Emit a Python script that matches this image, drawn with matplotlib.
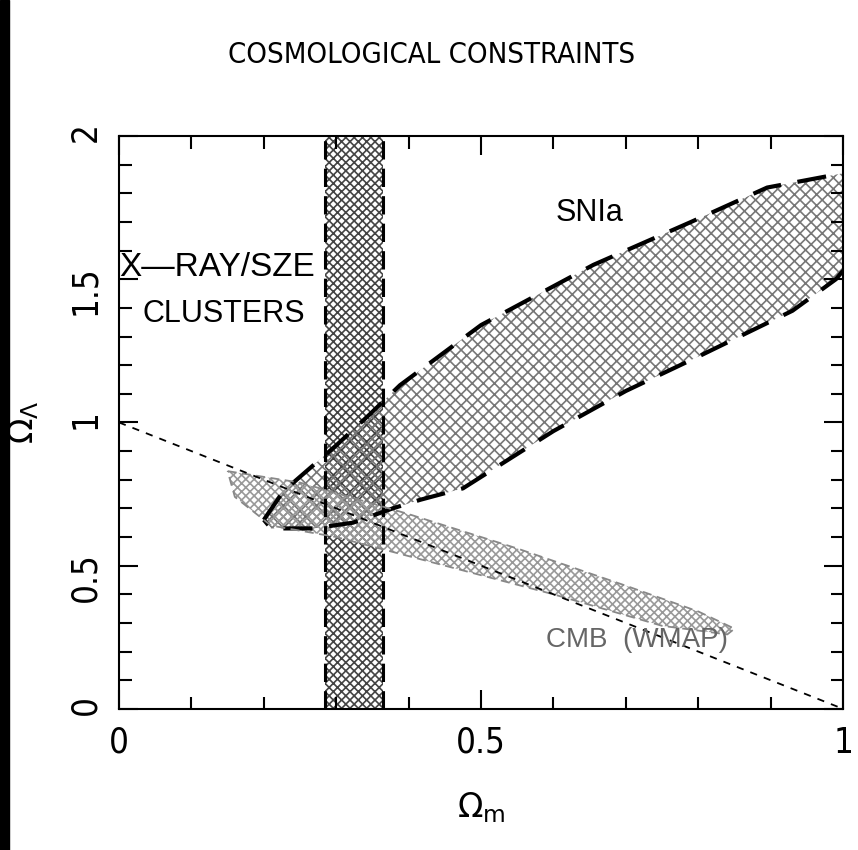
import matplotlib
matplotlib.use("Agg")
import matplotlib.pyplot as plt
from matplotlib.ticker import MultipleLocator
from matplotlib.patches import Rectangle

# cluster constraint (vertical band in Omega_m)
cluster_om = [0.285, 0.365]

# flat universe line
flat_om = [0.0, 1.0]
flat_ol = [1.0, 0.0]

# SNIa contour, upper and lower edges
sn_upper_om = [0.20, 0.227, 0.30, 0.347, 0.388, 0.50, 0.655, 0.79, 0.895, 1.0]
sn_upper_ol = [0.66, 0.76, 0.92, 1.03, 1.13, 1.34, 1.55, 1.70, 1.82, 1.87]
sn_lower_om = [1.0, 0.99, 0.93, 0.80, 0.70, 0.60, 0.475, 0.416, 0.378, 0.323, 0.268, 0.21, 0.20]
sn_lower_ol = [1.53, 1.50, 1.39, 1.23, 1.11, 0.97, 0.77, 0.73, 0.70, 0.65, 0.63, 0.63, 0.66]

# CMB (WMAP) contour
cmb_om = [0.15, 0.25, 0.40, 0.55, 0.70, 0.80, 0.85, 0.84, 0.75, 0.60, 0.45, 0.30, 0.21, 0.16]
cmb_ol = [0.83, 0.79, 0.68, 0.56, 0.43, 0.34, 0.28, 0.26, 0.29, 0.40, 0.50, 0.60, 0.64, 0.74]

xticks = [0, 0.5, 1]
xtick_labels = ["0", "0.5", "1"]
yticks = [0, 0.5, 1, 1.5, 2]
ytick_labels = ["0", "0.5", "1", "1.5", "2"]

plt.rcParams["hatch.linewidth"] = 1.2
thin = dict(family="DejaVu Sans", stretch="condensed", weight="light")
label_font = dict(family="Liberation Sans", fontsize=22)

fig = plt.figure(figsize=(8.58, 8.5), dpi=100)
ax = fig.add_axes([0.1387, 0.166, 0.844, 0.674])

# clusters band
ax.axvspan(cluster_om[0], cluster_om[1], facecolor="none", edgecolor="#444444",
           hatch="xxxx", lw=0)
for xv in cluster_om:
    ax.axvline(xv, color="black", ls=(0, (6, 3)), lw=2.2)

# SNIa
sn_om = sn_upper_om + sn_lower_om
sn_ol = sn_upper_ol + sn_lower_ol
ax.fill(sn_om, sn_ol, facecolor="none", edgecolor="#777777", hatch="xxx", lw=0)
ax.plot(sn_upper_om, sn_upper_ol, color="black", ls=(0, (7, 4)), lw=3)
ax.plot(sn_lower_om, sn_lower_ol, color="black", ls=(0, (7, 4)), lw=3)

# CMB
ax.fill(cmb_om, cmb_ol, facecolor="none", edgecolor="#999999", hatch="xxxx", lw=0)
ax.plot(cmb_om + cmb_om[:1], cmb_ol + cmb_ol[:1], color="#888888", ls=(0, (5, 3)), lw=1.3)
ax.plot(flat_om, flat_ol, color="black", ls=(0, (4, 4)), lw=1.3)

ax.text(0.65, 1.73, "SNIa", ha="center", va="center", **label_font)
ax.text(0.0, 1.54, "X\u2014RAY/SZE", ha="left", va="center", family="Liberation Sans", fontsize=24)
ax.text(0.033, 1.38, "CLUSTERS", ha="left", va="center", **label_font)
ax.text(0.715, 0.24, "CMB  (WMAP)", ha="center", va="center", color="#666666",
        family="Liberation Sans", fontsize=20)

ax.set_xlim(0, 1)
ax.set_ylim(0, 2)
ax.set_xticks(xticks, xtick_labels, **thin)
ax.set_yticks(yticks, ytick_labels, **thin)
ax.xaxis.set_minor_locator(MultipleLocator(0.1))
ax.yaxis.set_minor_locator(MultipleLocator(0.1))
ax.tick_params(which="both", direction="in", top=True, right=True, width=1.5)
ax.tick_params(which="major", length=14, labelsize=25, pad=12)
ax.tick_params(which="minor", length=9)
ax.tick_params(axis="y", labelrotation=90)
for s in ax.spines.values():
    s.set_linewidth(1.5)

ax.set_xlabel(r"$\Omega_{\rm m}$", fontsize=24, labelpad=22)
ax.set_ylabel(r"$\Omega_\Lambda$", fontsize=24, labelpad=20)

fig.text(0.503, 0.935, "COSMOLOGICAL CONSTRAINTS", fontsize=21, ha="center", va="center", **thin)
fig.add_artist(Rectangle((0, 0), 9 / 858, 1, transform=fig.transFigure, color="black"))

fig.savefig("out.png", dpi=100)
